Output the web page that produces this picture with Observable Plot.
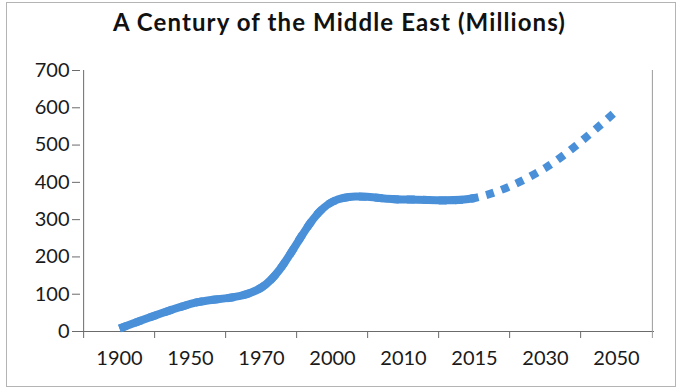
<!DOCTYPE html>
<html>
<head>
<meta charset="utf-8">
<script src="https://cdn.jsdelivr.net/npm/d3@7"></script>
<script src="https://cdn.jsdelivr.net/npm/@observablehq/plot@0.6"></script>
<style>
  html, body { margin: 0; padding: 0; background: #fff; }
  #wrap { position: relative; width: 679px; height: 390px; overflow: hidden; font-family: Lato, "Open Sans", sans-serif; }
  #frame { position: absolute; left: 6px; top: 2px; width: 670px; height: 385px; border: 1px solid #b4b4b4; box-sizing: border-box; pointer-events: none; }
  #title { height: 50px; line-height: 43px; text-align: center; font-weight: 700; font-size: 24px; letter-spacing: 1.1px; color: #111; }
  #chart svg { display: block; }
</style>
</head>
<body>
<div id="wrap">
  <div id="frame"></div>
  <div id="title">A Century of the Middle East (Millions)</div>
  <div id="chart"></div>
</div>
<script>
const years = ["1900", "1950", "1970", "2000", "2010", "2015", "2030", "2050"];
const population = [8, 74, 118, 348, 354, 358, 439, 592];
const yTicks = [0, 100, 200, 300, 400, 500, 600, 700];
const lastActualYear = "2015"; // solid up to here, dotted projection after

const rows = years.map((y, i) => ({year: y, value: population[i]}));

const W = 679, H = 340;
const mL = 80, mR = 25, mT = 20, mB = 59;
const step = (W - mL - mR) / years.length;
const blue = "#4a90d9";
const axisColor = "#6b6b6b";

const chart = Plot.plot({
  width: W,
  height: H,
  marginLeft: mL,
  marginRight: mR,
  marginTop: mT,
  marginBottom: mB,
  style: {fontFamily: "Lato, 'Open Sans', sans-serif", background: "white", color: "#222"},
  x: {type: "point", domain: years, padding: 0.5, axis: null},
  y: {domain: [0, 700], axis: null},
  marks: [
    // axis lines
    Plot.ruleY([0], {stroke: axisColor, strokeWidth: 1}),
    Plot.ruleX([years[0]], {y1: 0, y2: 700, dx: -step / 2, stroke: axisColor, strokeWidth: 1}),
    Plot.ruleX([years[years.length - 1]], {y1: 0, y2: 700, dx: step / 2, stroke: "#9a9a9a", strokeWidth: 1}),
    // category boundary ticks
    Plot.axisX({ticks: years, tickSize: 7, tickFormat: () => "", label: null, dx: -step / 2, stroke: axisColor}),
    Plot.axisX({ticks: [years[years.length - 1]], tickSize: 7, tickFormat: () => "", label: null, dx: step / 2, stroke: "#9a9a9a"}),
    // category labels
    Plot.axisX({ticks: years, tickSize: 0, tickPadding: 19, fontSize: 20, label: null, fill: "#1a1a1a"}),
    // y axis
    Plot.axisY({ticks: yTicks, tickSize: 8, tickPadding: 3, fontSize: 20, label: null, stroke: axisColor, fill: "#1a1a1a", tickFormat: d3.format("d")}),
    // projection (dotted) - full series
    Plot.line(rows, {x: "year", y: "value", curve: "catmull-rom", stroke: blue, strokeWidth: 8,
      strokeDasharray: "8,8", strokeLinecap: "butt", strokeLinejoin: "round"}),
    // actual (solid) - same path, trimmed to the last actual year below
    Plot.line(rows, {x: "year", y: "value", curve: "catmull-rom", stroke: blue, strokeWidth: 8,
      strokeLinecap: "butt", strokeLinejoin: "round"})
  ]
});
document.getElementById("chart").appendChild(chart);

// Trim the solid copy so it ends at the last actual year (same curve as the dotted one).
const paths = chart.querySelectorAll('g[aria-label="line"] path');
const solid = paths[paths.length - 1];
const targetX = chart.scale("x").apply(lastActualYear);
const total = solid.getTotalLength();
let lo = 0, hi = total;
for (let k = 0; k < 40; k++) {
  const mid = (lo + hi) / 2;
  if (solid.getPointAtLength(mid).x < targetX) lo = mid; else hi = mid;
}
solid.setAttribute("stroke-dasharray", `${lo} ${total + 100}`);
</script>
</body>
</html>
